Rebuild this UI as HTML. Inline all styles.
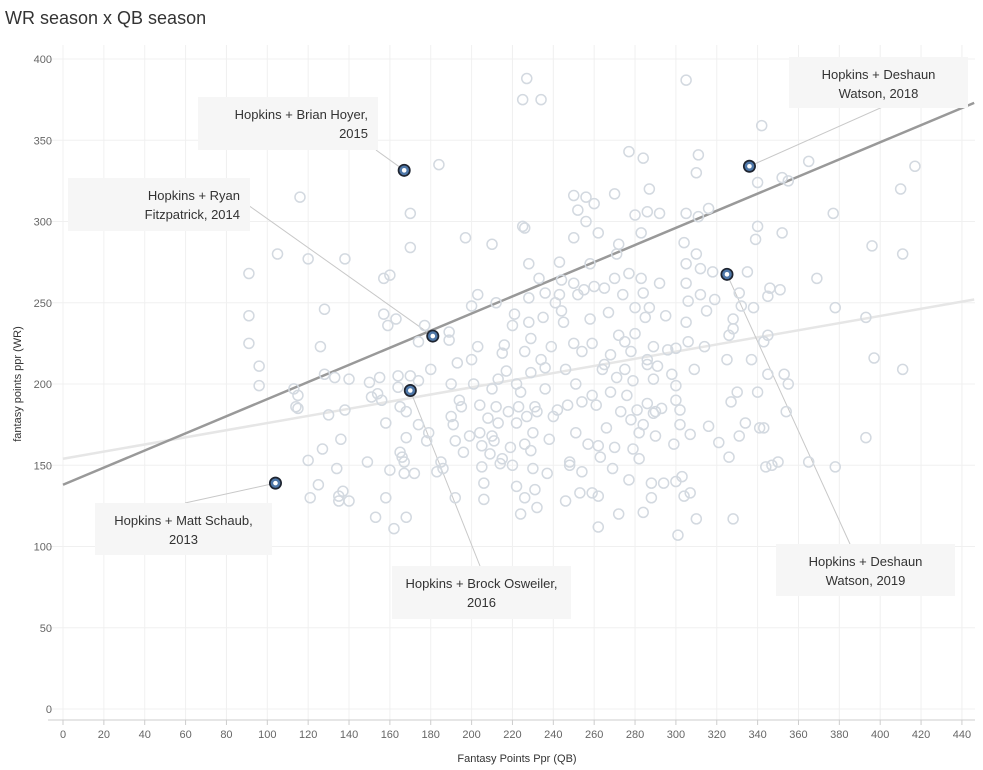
<!DOCTYPE html>
<html><head><meta charset="utf-8"><style>
body{margin:0;background:#fff;font-family:"Liberation Sans",sans-serif;}
svg{display:block}
</style></head><body>
<svg id="chart" width="983" height="770">
<text x="5" y="24" font-size="18" fill="#333">WR season x QB season</text>
<g id="grid"></g><g id="trend"></g><g id="leaders"></g><g id="pts"></g><g id="hl"></g><g id="notes"></g><g id="axes"></g>
<text x="517" y="762" font-size="11" fill="#333" text-anchor="middle">Fantasy Points Ppr (QB)</text>
<text transform="translate(21,384) rotate(-90)" font-size="11" fill="#333" text-anchor="middle">fantasy points ppr (WR)</text>
</svg>
<script>
const xTicks=[0,20,40,60,80,100,120,140,160,180,200,220,240,260,280,300,320,340,360,380,400,420,440];
const yTicks=[0,50,100,150,200,250,300,350,400];
const qbPoints=[91,91,91,96,96,105,113,115,114,115,116,120,120,121,126,128,128,127,125,130,133,134,135,135,136,137,138,138,140,140,149,150,151,153,154,155,156,157,157,159,160,158,158,160,162,163,164,164,165,165,166,167,167,168,168,168,170,170,170,172,174,174,174,177,178,179,180,183,184,185,186,189,189,190,190,191,192,192,193,194,195,196,197,199,200,200,201,203,203,204,204,205,205,206,206,208,209,210,210,210,211,212,212,213,213,214,215,215,216,217,218,219,220,220,221,222,222,222,223,224,224,225,225,226,226,226,226,227,227,228,228,228,229,229,229,230,230,231,231,232,232,233,234,234,235,236,236,237,238,239,240,241,242,243,243,244,245,246,246,247,248,248,250,250,250,250,251,251,252,252,253,254,254,254,255,256,257,258,258,259,259,259,260,260,261,262,262,262,262,263,264,265,265,266,267,268,268,269,270,270,270,271,272,272,272,273,274,275,275,276,277,277,277,278,278,279,279,280,280,280,281,282,282,283,283,284,284,284,284,285,286,286,286,286,287,287,288,288,289,289,289,290,290,291,292,292,293,294,295,296,298,299,300,300,300,300,301,302,302,303,304,304,305,305,305,305,305,306,306,307,307,309,310,310,310,311,311,312,312,314,315,316,318,319,321,326,325,327,328,328,328,330,331,331,332,334,335,337,338,339,340,340,340,341,342,343,343,344,345,345,345,346,347,350,351,352,352,353,354,355,355,365,365,369,377,378,378,393,393,396,397,410,411,411,417,316,326,271,256,244,236];
const wrPoints=[268,242,225,211,199,280,197,193,186,185,315,277,153,130,223,206,246,160,138,181,204,148,131,128,166,134,277,184,128,203,152,201,192,118,194,204,190,265,243,236,267,176,130,147,111,240,205,198,186,158,155,145,152,183,118,167,305,284,205,145,226,202,175,236,165,170,209,146,335,152,148,232,227,200,180,175,165,130,213,190,186,158,290,168,248,215,200,255,223,187,170,162,149,129,139,179,157,286,197,168,165,250,186,203,176,151,219,154,224,208,183,161,236,150,243,200,176,137,186,120,195,375,297,296,163,130,220,388,180,274,253,238,228,159,207,170,148,135,186,183,124,265,375,215,241,210,197,145,166,223,180,250,184,275,255,264,238,209,128,187,152,150,316,290,262,225,200,170,255,307,133,220,189,146,258,300,163,274,240,225,193,133,311,260,187,112,131,162,293,155,209,259,212,173,244,218,195,148,317,265,161,204,230,286,120,183,255,209,226,193,343,268,141,220,178,202,160,247,231,304,184,170,154,265,293,256,339,175,121,241,306,215,188,212,320,247,130,139,223,203,182,183,168,211,305,262,185,139,242,221,206,163,222,199,190,140,107,184,175,143,131,287,274,262,305,387,238,251,226,169,133,209,117,280,330,341,303,271,255,223,245,308,269,252,164,155,215,189,117,234,240,195,256,168,248,176,269,215,247,289,195,297,324,173,359,226,173,149,206,230,254,259,150,152,258,327,293,206,183,325,200,337,152,265,305,247,149,241,167,285,216,320,280,209,334,174,230,280,315,245,256];
const hlNames=["Hopkins + Matt Schaub, 2013","Hopkins + Brock Osweiler, 2016","Hopkins + Ryan Fitzpatrick, 2014","Hopkins + Brian Hoyer, 2015","Hopkins + Deshaun Watson, 2018","Hopkins + Deshaun Watson, 2019"];
const hlQB=[104,170,181,167,336,325];
const hlWR=[139,196,229.5,331.5,334,267.5];
const trendAll=[138,373];
const trendHop=[154,252];
const trendX=[0,446];

const NS="http://www.w3.org/2000/svg";
const X=v=>63+v*2.043, Y=v=>709-v*1.625;
function mk(p,t,a){const e=document.createElementNS(NS,t);for(const k in a)e.setAttribute(k,a[k]);document.getElementById(p).appendChild(e);return e;}
xTicks.forEach(t=>{
 const l=mk('grid','line',{x1:X(t),x2:X(t),y1:45,y2:720,stroke:'#f0f0f0'});
 
 
 const k=mk('axes','line',{x1:X(t),x2:X(t),y1:720,y2:725,stroke:'#ccc'});
 
 
 const s=mk('axes','text',{x:X(t),y:738,'font-size':11,fill:'#666','text-anchor':'middle'});s.textContent=t;
 
 
});
yTicks.forEach(t=>{
 const l=mk('grid','line',{x1:48,x2:975,y1:Y(t),y2:Y(t),stroke:'#f0f0f0'});
 
 
 const s=mk('axes','text',{x:52,y:Y(t)+4,'font-size':11,fill:'#666','text-anchor':'end'});s.textContent=t;
 
 
});
const ax=mk('axes','line',{x1:48,x2:975,y1:720,y2:720,stroke:'#ccc'});


const t1=mk('trend','line',{x1:X(trendX[0]),y1:Y(trendHop[0]),x2:X(trendX[1]),y2:Y(trendHop[1]),stroke:'#e6e6e6','stroke-width':2.5});


const t2=mk('trend','line',{x1:X(trendX[0]),y1:Y(trendAll[0]),x2:X(trendX[1]),y2:Y(trendAll[1]),stroke:'#999','stroke-width':2.5});


qbPoints.forEach((q,i)=>{
 const c=mk('pts','circle',{cx:X(q),cy:Y(wrPoints[i]),r:5,fill:'none',stroke:'#d3d9e0','stroke-width':1.5});
 
 
});
const boxes=[[95,503,177,52,'middle'],[392,566,179,53,'middle'],[68,178,182,53,'end'],[198,97,180,53,'end'],[789,57,179,51,'middle'],[776,544,179,52,'middle']];
const anchors=[[185,503],[480,566],[248,205],[376,150],[905,97],[850,544]];
const lines=[["Hopkins + Matt Schaub,","2013"],["Hopkins + Brock Osweiler,","2016"],["Hopkins + Ryan","Fitzpatrick, 2014"],["Hopkins + Brian Hoyer,","2015"],["Hopkins + Deshaun","Watson, 2018"],["Hopkins + Deshaun","Watson, 2019"]];
hlQB.forEach((q,i)=>{
 const px=X(q),py=Y(hlWR[i]);
 const ll=mk('leaders','line',{x1:anchors[i][0],y1:anchors[i][1],x2:px,y2:py,stroke:'#c8c8c8'});
 
 
 const g=mk('hl','g',{});
 
 
 const a=document.createElementNS(NS,'circle');a.setAttribute('cx',px);a.setAttribute('cy',py);a.setAttribute('r',6.5);a.setAttribute('fill','#1e2430');g.appendChild(a);
 const b=document.createElementNS(NS,'circle');b.setAttribute('cx',px);b.setAttribute('cy',py);b.setAttribute('r',4.8);b.setAttribute('fill','#4e77a8');g.appendChild(b);
 const c=document.createElementNS(NS,'circle');c.setAttribute('cx',px);c.setAttribute('cy',py);c.setAttribute('r',2.3);c.setAttribute('fill','#fff');g.appendChild(c);
 const [bx,by,bw,bh,an]=boxes[i];
 const r=mk('notes','rect',{x:bx,y:by,width:bw,height:bh,fill:'#f6f6f6'});
 
 
 const tx=an==='end'?bx+bw-10:bx+bw/2;
 const t=mk('notes','text',{x:tx,y:by+22,'font-size':13,fill:'#333','text-anchor':an});
 
 
 lines[i].forEach((s,j)=>{const ts=document.createElementNS(NS,'tspan');ts.setAttribute('x',tx);ts.setAttribute('dy',j?19:0);ts.textContent=s;t.appendChild(ts);});
});
</script>
</body></html>
